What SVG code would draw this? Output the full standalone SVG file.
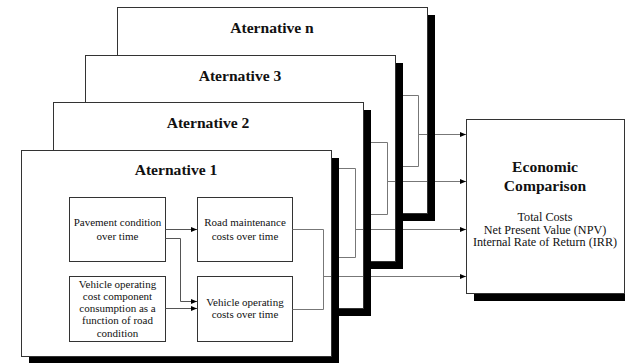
<svg xmlns="http://www.w3.org/2000/svg" width="625" height="363" viewBox="0 0 625 363">
<style>
.frame{fill:#fff;stroke:#333;stroke-width:1}
.shadow{fill:#000}
.box{fill:#fff;stroke:#333;stroke-width:1}
text{font-family:'Liberation Serif','DejaVu Serif',serif;fill:#111;text-anchor:middle}
.title{font-weight:bold;font-size:15.6px}
.txt{font-size:11px}
.txt12{font-size:12.2px}
.ln{fill:none;stroke:#555;stroke-width:1}
.out{fill:none;stroke:#777;stroke-width:1}
</style>
<defs>
<marker id="ah" markerUnits="userSpaceOnUse" markerWidth="6" markerHeight="6" refX="6" refY="3" orient="auto">
<path d="M0,0.5 L6,3 L0,5.5 z" fill="#000"/>
</marker>
</defs>
<rect width="625" height="363" fill="#fff"/>

<g id="alt-n">
<rect class="shadow" x="125" y="15" width="310" height="206"/>
<rect class="frame" x="117.5" y="7.5" width="310" height="206"/>
<text class="title" x="272" y="33">Aternative n</text>
</g>
<g id="alt-3">
<rect class="shadow" x="93" y="63" width="310" height="206"/>
<rect class="frame" x="85.5" y="55.5" width="310" height="206"/>
<text class="title" x="240" y="80.5">Aternative 3</text>
</g>
<g id="alt-2">
<rect class="shadow" x="61" y="110" width="310" height="206"/>
<rect class="frame" x="53.5" y="102.5" width="310" height="206"/>
<text class="title" x="208" y="128">Aternative 2</text>
</g>
<g id="alt-1">
<rect class="shadow" x="29" y="158" width="310" height="206"/>
<rect class="frame" x="21.5" y="150.5" width="310" height="206"/>
<text class="title" x="176" y="175">Aternative 1</text>
</g>

<g id="pavement">
<rect class="box" x="69.5" y="197.5" width="96" height="64"/>
<text class="txt" x="117.5" y="226">Pavement condition</text>
<text class="txt" x="117.5" y="239.5">over time</text>
</g>
<g id="road-maintenance">
<rect class="box" x="197.5" y="197.5" width="95" height="64"/>
<text class="txt" x="245" y="226">Road maintenance</text>
<text class="txt" x="245" y="239.5">costs over time</text>
</g>
<g id="voc-component">
<rect class="box" x="69.5" y="276.5" width="96" height="65"/>
<text class="txt" x="117.5" y="287.5">Vehicle operating</text>
<text class="txt" x="117.5" y="299.8">cost component</text>
<text class="txt" x="117.5" y="312">consumption as a</text>
<text class="txt" x="117.5" y="324.3">function of road</text>
<text class="txt" x="117.5" y="336.5">condition</text>
</g>
<g id="voc-costs">
<rect class="box" x="197.5" y="276.5" width="95" height="65"/>
<text class="txt" x="245" y="305.5">Vehicle operating</text>
<text class="txt" x="245" y="318.3">costs over time</text>
</g>

<g id="economic-comparison">
<rect class="shadow" x="474" y="127" width="160" height="174"/>
<rect class="frame" x="466.5" y="119.5" width="158" height="174"/>
<text class="title" x="545" y="172">Economic</text>
<text class="title" x="545" y="191">Comparison</text>
<text class="txt12" x="545" y="221">Total Costs</text>
<text class="txt12" x="545" y="233.5">Net Present Value (NPV)</text>
<text class="txt12" x="545" y="246">Internal Rate of Return (IRR)</text>
</g>

<g id="connectors">
<path class="ln" d="M165.5,229.5 H197" marker-end="url(#ah)"/>
<path class="ln" d="M165.5,238.5 H180.5 V301.5 H197" marker-end="url(#ah)"/>
<path class="ln" d="M165.5,308.5 H197" marker-end="url(#ah)"/>
<path class="out" d="M292.5,229.5 H323.5 V309.5 H292.5"/>
<path class="out" d="M339,168.5 H355.5 V257.5 H339"/>
<path class="out" d="M371,142.5 H387.5 V214.5 H371"/>
<path class="out" d="M403,95.5 H418.5 V166.5 H403"/>
<path class="out" d="M418.5,134.5 H427 M435,134.5 H466" marker-end="url(#ah)"/>
<path class="out" d="M387.5,181.5 H395 M403,181.5 H427 M435,181.5 H466" marker-end="url(#ah)"/>
<path class="out" d="M355.5,229.5 H363 M371,229.5 H395 M403,229.5 H466" marker-end="url(#ah)"/>
<path class="out" d="M323.5,276.5 H331 M339,276.5 H363 M371,276.5 H466" marker-end="url(#ah)"/>
</g>
</svg>
